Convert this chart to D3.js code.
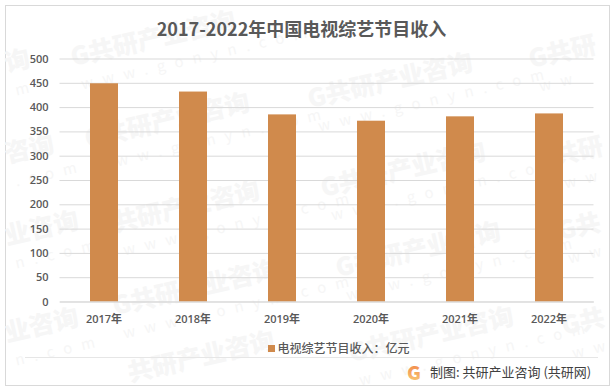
<!DOCTYPE html>
<html>
<head>
<meta charset="utf-8">
<style>
html, body { margin: 0; padding: 0; background: #fff; }
svg { display: block; }
text { font-family: "Noto Sans CJK SC", "Noto Sans", sans-serif; }
.axis-y text, .axis-x text { font-family: "Open Sans", "Noto Sans CJK SC", sans-serif; }
</style>
<script src="https://cdn.jsdelivr.net/npm/d3@7"></script>
</head>
<body>
<svg id="chart" width="616" height="392"></svg>
<script>
// データ
var years = ["2017年", "2018年", "2019年", "2020年", "2021年", "2022年"];
var income = [449, 432, 385, 372, 381, 387];
var yTicks = [0, 50, 100, 150, 200, 250, 300, 350, 400, 450, 500];
var titleText = "2017-2022年中国电视综艺节目收入";
var legendText = "电视综艺节目收入：亿元";
var sourceText = "制图: 共研产业咨询 (共研网)";

// 透かし: 枠内に見える分だけ書く [x, y, 社名, URL]
var stamps = [
    [73, 66, "G共研产业咨询", "www.gonyn.com"],
    [310, 108, "G共研产业咨询", "www.gonyn.com"],
    [531, 68, "G共研", "ww"],
    [7, 72, "询", "m"],
    [7, 163, "咨询", ".com"],
    [87, 148, "G共研产业咨询", "www.gonyn.com"],
    [323, 197, "G共研产业咨询", "www.gonyn.com"],
    [556, 165, "共研", "ww"],
    [7, 245, "业咨询", "n.com"],
    [115, 232, "共研产业咨询", "www.gonyn.com"],
    [338, 277, "G共研产业咨询", "www.gonyn.com"],
    [560, 240, "G共", "ww"],
    [7, 342, "业咨询", "n.com"],
    [115, 315, "G共研产业咨询", "www.gonyn.com"],
    [351, 362, "G共研产业咨询", "www.gonyn.com"],
    [564, 335, "G共", "ww"],
    [130, 382, "共研产业咨询", ""]
];

var svg = d3.select("#chart");
var textColor = "#595959";
var gridColor = "#d9d9d9";
var barColor = "#d08a4c";

// 外枠
svg.append("rect")
    .attr("x", 5.5).attr("y", 5.5)
    .attr("width", 604).attr("height", 380)
    .attr("fill", "#fff")
    .attr("stroke", gridColor)
    .attr("stroke-width", 1);

// 透かし
var wm = svg.append("g").attr("fill", "#f6f6f6");
stamps.forEach(function(s){
    var g = wm.append("g").attr("transform", "translate(" + s[0] + "," + s[1] + ") rotate(-13)");
    g.append("text").attr("x", 0).attr("y", 0)
        .attr("font-size", 25).attr("font-weight", 900).text(s[2]);
    g.append("text").attr("x", 4).attr("y", 25)
        .attr("font-size", 15).attr("letter-spacing", 9.5).text(s[3]);
});

// スケール
var xScale = d3.scaleBand().domain(years).range([59.5, 593.5]).paddingInner(0).paddingOuter(0);
var yScale = d3.scaleLinear().domain([0, 500]).range([301.5, 58.5]);
var barWidth = 28;

// 横の目盛線
svg.append("g")
    .attr("class", "axis-y")
    .attr("transform", "translate(59.5,0)")
    .call(d3.axisLeft(yScale).tickValues(yTicks).tickSize(-534).tickPadding(11))
    .call(function(g){
        g.select(".domain").remove();
        g.selectAll("line").attr("stroke", gridColor).attr("stroke-width", 1);
        g.selectAll("text").attr("fill", textColor).attr("font-size", 11).style("font-weight", 600);
    });

// 棒グラフ
svg.append("g").selectAll("rect")
    .data(income)
    .enter()
    .append("rect")
    .attr("x", function(d, i){ return xScale(years[i]) + xScale.bandwidth() / 2 - barWidth / 2; })
    .attr("y", function(d){ return yScale(d); })
    .attr("width", barWidth)
    .attr("height", function(d){ return yScale(0) - yScale(d); })
    .attr("fill", barColor);

// 横軸
svg.append("g")
    .attr("class", "axis-x")
    .attr("transform", "translate(0,301.5)")
    .call(d3.axisBottom(xScale).tickSize(0).tickPadding(14))
    .call(function(g){
        g.select(".domain").attr("stroke", gridColor);
        g.selectAll("text").attr("fill", textColor).attr("font-size", 11).style("font-weight", 600);
    });

// タイトル
svg.append("text")
    .attr("x", 301.5).attr("y", 36)
    .attr("text-anchor", "middle")
    .attr("font-size", 18).attr("font-weight", 700)
    .attr("fill", textColor)
    .text(titleText);

// 凡例
svg.append("rect")
    .attr("x", 268).attr("y", 345)
    .attr("width", 7).attr("height", 7)
    .attr("fill", barColor);
svg.append("text")
    .attr("x", 277.5).attr("y", 353)
    .attr("font-size", 12).attr("font-weight", 500)
    .attr("fill", textColor)
    .text(legendText);

// 区切り線
svg.append("line")
    .attr("x1", 25).attr("x2", 598)
    .attr("y1", 357.5).attr("y2", 357.5)
    .attr("stroke", "#e6e6e6");

// ロゴと出典
var grad = svg.append("defs").append("linearGradient")
    .attr("id", "logoGrad")
    .attr("x1", "0").attr("y1", "0").attr("x2", "0").attr("y2", "1");
grad.append("stop").attr("offset", "0%").attr("stop-color", "#f0763c");
grad.append("stop").attr("offset", "100%").attr("stop-color", "#f9d27d");
svg.append("text")
    .attr("x", 407).attr("y", 380)
    .attr("font-size", 19).attr("font-weight", 900)
    .attr("fill", "url(#logoGrad)")
    .text("G");
svg.append("text")
    .attr("x", 430).attr("y", 377)
    .attr("font-size", 13)
    .attr("fill", "#404040")
    .text(sourceText);
</script>
</body>
</html>
